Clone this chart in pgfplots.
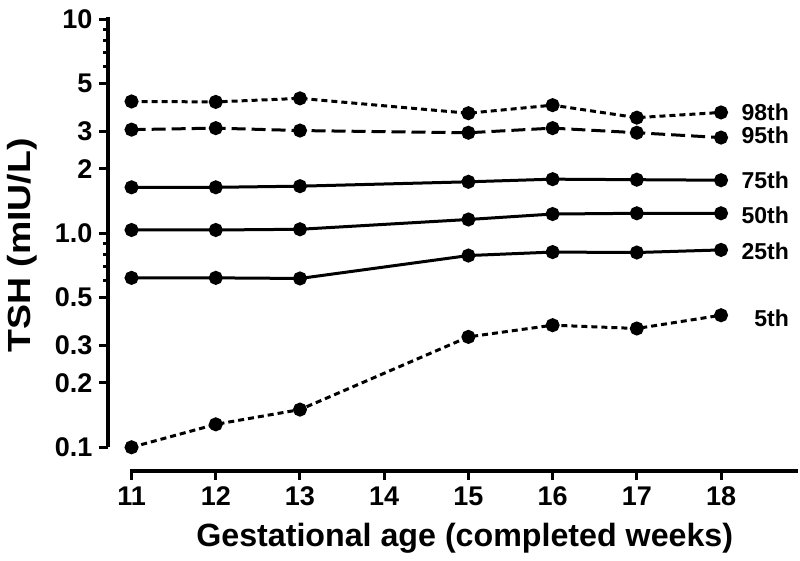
\documentclass[border=0pt]{standalone}
\usepackage{fontspec}
\setmainfont{Liberation Sans}
\newfontfamily\ylabfont[FakeStretch=1.17]{Liberation Sans}
\usepackage{pgfplots}
\pgfplotsset{compat=1.18}
\begin{document}
\begin{tikzpicture}
\begin{axis}[
  scale only axis,
  width=345pt, height=230.5pt,
  xmin=10.72, xmax=18.914,
  ymode=log, ymin=0.0775, ymax=11.05,
  clip=false,
  axis x line*=bottom,
  axis y line*=left,
  x axis line style={draw=none},
  y axis line style={draw=none},
  tick align=outside,
  major tick length=4.3pt,
  minor tick length=2.4pt,
  tick style={black, line width=1.5pt},
  xtick={11,12,13,14,15,16,17,18},
  xticklabels={11,12,13,14,15,16,17,18},
  ytick={0.1,0.2,0.3,0.5,1,2,3,5,10},
  yticklabels={0.1,0.2,0.3,0.5,1.0,2,3,5,10},
  minor ytick={0.6,0.7,0.8,0.9,6,7,8,9},
  /pgf/number format/assume math mode=true,
  tick label style={font=\bfseries\fontsize{13.5}{13.5}\selectfont},
  xlabel={Gestational age (completed weeks)},
  ylabel={TSH (mIU/L)},
  xlabel style={font=\bfseries\fontsize{16.1}{16.1}\selectfont, at={(rel axis cs:0.517,-0.1453)}, anchor=center},
  ylabel style={font=\ylabfont\bfseries\fontsize{16}{16}\selectfont, at={(rel axis cs:-0.1246,0.489)}, anchor=center},
]
% axis lines (offset style)
\draw[black, line width=2pt] (axis cs:10.72,0.1) -- (axis cs:10.72,10.3);
\draw[black, line width=2pt] (axis cs:10.985,0.0775) -- (axis cs:18.914,0.0775);

\pgfplotsset{pt/.style={black, line width=1.5pt, mark=*, mark size=2.75pt, mark options={solid, fill=black}}}
% 98th
\addplot[pt, dash pattern=on 3pt off 2pt] coordinates {(11,4.13) (12,4.11) (13,4.27) (15,3.64) (16,3.97) (17,3.47) (18,3.67)};
% 95th
\addplot[pt, dash pattern=on 7pt off 3pt] coordinates {(11,3.05) (12,3.10) (13,3.02) (15,2.95) (16,3.10) (17,2.95) (18,2.80)};
% 75th
\addplot[pt, solid] coordinates {(11,1.64) (12,1.64) (13,1.66) (15,1.74) (16,1.79) (17,1.78) (18,1.77)};
% 50th
\addplot[pt, solid] coordinates {(11,1.036) (12,1.036) (13,1.044) (15,1.16) (16,1.23) (17,1.24) (18,1.24)};
% 25th
\addplot[pt, solid] coordinates {(11,0.619) (12,0.619) (13,0.615) (15,0.787) (16,0.817) (17,0.813) (18,0.836)};
% 5th
\addplot[pt, dash pattern=on 3pt off 2pt] coordinates {(11,0.100) (12,0.128) (13,0.150) (15,0.328) (16,0.372) (17,0.359) (18,0.414)};

\begin{scope}[every node/.style={anchor=east, font=\bfseries\fontsize{11.5}{11.5}\selectfont, inner sep=0pt}]
\node at (axis cs:18.81,3.66) {98th};
\node at (axis cs:18.81,2.88) {95th};
\node at (axis cs:18.81,1.77) {75th};
\node at (axis cs:18.81,1.22) {50th};
\node at (axis cs:18.81,0.82) {25th};
\node at (axis cs:18.81,0.402) {5th};
\end{scope}

\path (rel axis cs:-0.1565,-0.1952) rectangle (rel axis cs:1.0029,1.0217);
\end{axis}
\end{tikzpicture}
\end{document}
